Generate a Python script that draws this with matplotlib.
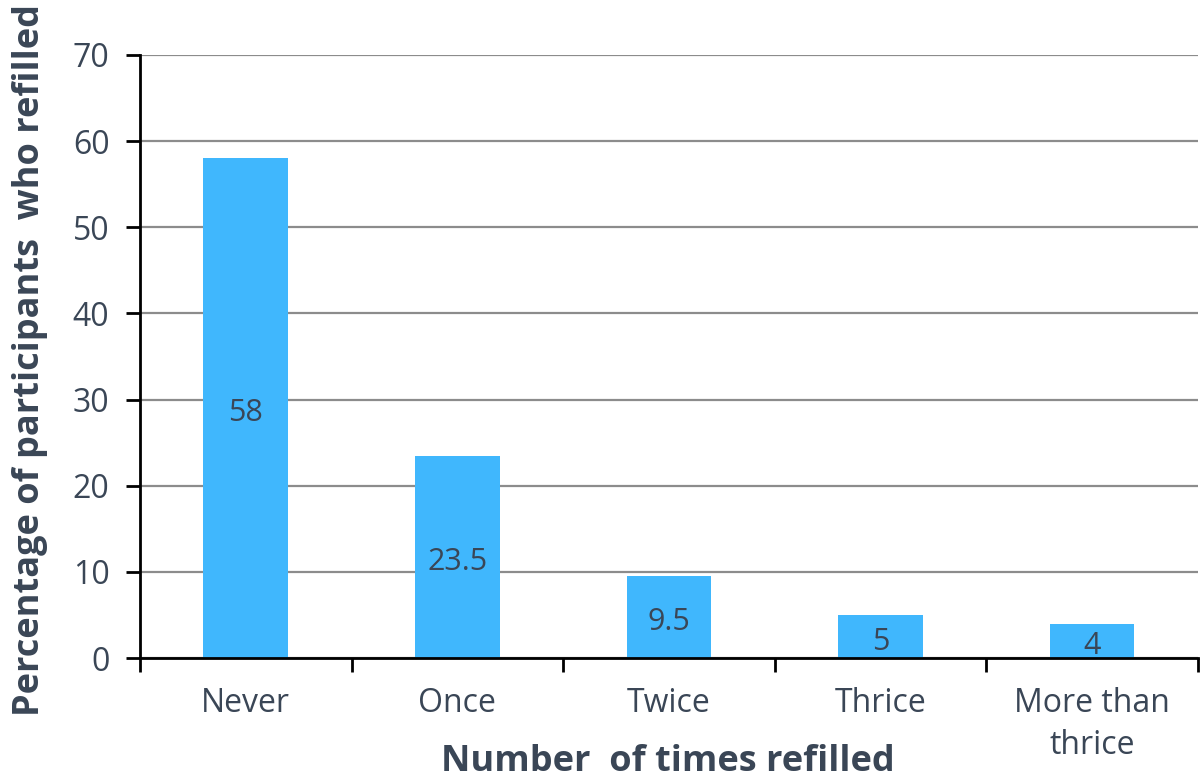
import matplotlib
matplotlib.use("Agg")
import matplotlib.pyplot as plt
from matplotlib.ticker import FixedLocator

categories = ["Never", "Once", "Twice", "Thrice", "More than\nthrice"]
values = [58, 23.5, 9.5, 5, 4]
value_labels = ["58", "23.5", "9.5", "5", "4"]
yticks = [0, 10, 20, 30, 40, 50, 60, 70]

plt.rcParams['font.family'] = ['Open Sans', 'DejaVu Sans']
txt = '#3A4656'
bar_color = '#40B7FD'

fig = plt.figure(figsize=(12, 7.8), dpi=100)
ax = fig.add_axes([0.1167, 0.1564, 0.8813, 0.7731])

x = list(range(len(categories)))
ax.bar(x, values, width=0.40, color=bar_color, zorder=3)
for xi, v, lab in zip(x, values, value_labels):
    ax.text(xi, v / 2 - 0.6, lab, ha='center', va='center', fontsize=22, color=txt, zorder=4)

ax.set_xlim(-0.5, len(categories) - 0.5)
ax.set_ylim(0, 70)
ax.set_yticks(yticks)
ax.yaxis.grid(True, color='#8C8C8C', linewidth=1.6, zorder=0)
ax.set_axisbelow(True)

ax.set_xticks(x)
ax.set_xticklabels(categories, fontsize=23, color=txt, linespacing=1.35)
ax.xaxis.set_minor_locator(FixedLocator([i - 0.5 for i in range(len(categories) + 1)]))
ax.tick_params(axis='x', which='major', length=0, pad=21)
ax.tick_params(axis='x', which='minor', length=10, width=2, color='black', direction='out')
ax.tick_params(axis='y', length=10, width=2, color='black', direction='out', labelsize=23, labelcolor=txt, pad=12)

for s in ['top', 'right']:
    ax.spines[s].set_visible(False)
for s in ['left', 'bottom']:
    ax.spines[s].set_linewidth(2)
    ax.spines[s].set_color('black')
ax.spines['bottom'].set_zorder(5)

fig.text(30 / 1200, 1 - 360 / 780, "Percentage of participants  who refilled", rotation=90,
         ha='center', va='center', fontsize=26, fontweight='bold', color=txt)
fig.text(668 / 1200, 1 - 762 / 780, "Number  of times refilled",
         ha='center', va='center', fontsize=26, fontweight='bold', color=txt)

fig.savefig("out.png", dpi=100)
